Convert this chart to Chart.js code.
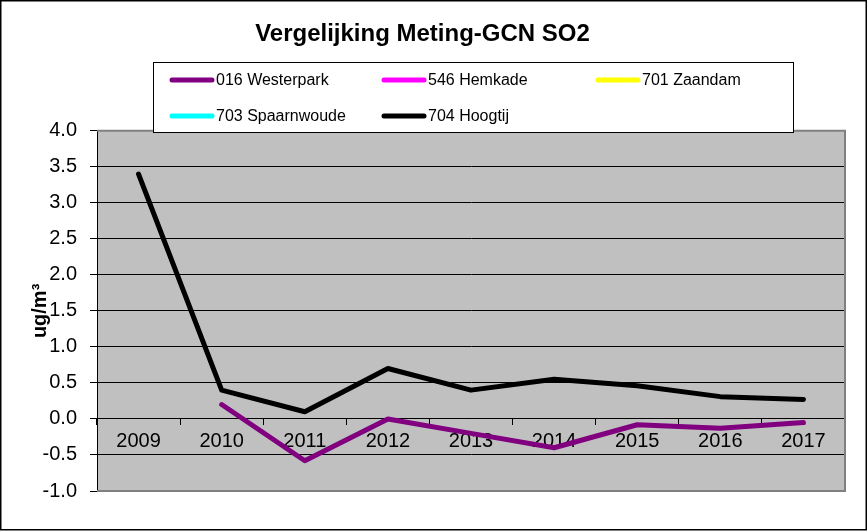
<!DOCTYPE html>
<html>
<head>
<meta charset="utf-8">
<script src="https://cdn.jsdelivr.net/npm/chart.js@4"></script>
<style>
  html, body { margin: 0; padding: 0; background: #fff; }
  #wrap { width: 868px; height: 531px; }
</style>
</head>
<body>
<div id="wrap"><canvas id="chart" width="868" height="531"></canvas></div>
<script>
// data
const years = ['2009', '2010', '2011', '2012', '2013', '2014', '2015', '2016', '2017'];
const westerpark016 = [null, 0.2, -0.58, 0.0, -0.2, -0.4, -0.08, -0.13, -0.05];
const hemkade546 = [];
const zaandam701 = [];
const spaarnwoude703 = [];
const hoogtij704 = [3.4, 0.4, 0.1, 0.7, 0.4, 0.55, 0.46, 0.31, 0.27];

const titleText = 'Vergelijking Meting-GCN SO2';
const yTitle = 'ug/m³';

const FONT = 'Arial, "Liberation Sans", sans-serif';

function series(label, data, color) {
  return {
    label: label,
    data: data,
    borderColor: color,
    backgroundColor: color,
    borderWidth: 5,
    pointRadius: 0,
    tension: 0,
    borderCapStyle: 'round',
    borderJoinStyle: 'round',
    spanGaps: false,
  };
}

// grey plot background, grey frame, white page + outer border, boxed legend
const excelLook = {
  id: 'excelLook',
  beforeDraw(chart) {
    const { ctx, chartArea: a } = chart;
    ctx.save();
    ctx.fillStyle = '#ffffff';
    ctx.fillRect(0, 0, chart.width, chart.height);
    ctx.fillStyle = '#c0c0c0';
    ctx.fillRect(a.left, a.top, a.right - a.left, a.bottom - a.top);
    ctx.restore();
  },
  beforeDatasetsDraw(chart) {
    const { ctx, chartArea: a } = chart;
    ctx.save();
    ctx.strokeStyle = '#808080';
    ctx.lineWidth = 2;
    ctx.beginPath();
    ctx.moveTo(a.left, a.top);
    ctx.lineTo(a.right, a.top);
    ctx.lineTo(a.right, a.bottom);
    ctx.lineTo(a.left, a.bottom);
    ctx.stroke();
    ctx.restore();
  },
  afterDraw(chart) {
    const ctx = chart.ctx;
    ctx.save();
    // legend box
    ctx.fillStyle = '#ffffff';
    ctx.fillRect(153, 62, 640, 70);
    ctx.strokeStyle = '#000000';
    ctx.lineWidth = 1;
    ctx.strokeRect(153.5, 62.5, 640, 70);
    const cols = [170, 382, 596];
    const rows = [80, 116];
    ctx.font = '16px ' + FONT;
    ctx.textBaseline = 'middle';
    ctx.textAlign = 'left';
    chart.data.datasets.forEach((ds, i) => {
      const x = cols[i % 3];
      const y = rows[Math.floor(i / 3)];
      ctx.strokeStyle = ds.borderColor;
      ctx.lineWidth = 5;
      ctx.lineCap = 'round';
      ctx.beginPath();
      ctx.moveTo(x + 2, y);
      ctx.lineTo(x + 42, y);
      ctx.stroke();
      ctx.fillStyle = '#000000';
      ctx.fillText(ds.label, x + 46, y + 1);
    });
    // outer frame
    ctx.strokeStyle = '#000000';
    ctx.lineWidth = 1.5;
    ctx.strokeRect(0.75, 0.75, 865.5, 529);
    ctx.restore();
  }
};

const chart = new Chart(document.getElementById('chart'), {
  type: 'line',
  data: {
    labels: years,
    datasets: [
      series('016 Westerpark', westerpark016, '#800080'),
      series('546 Hemkade', hemkade546, '#ff00ff'),
      series('701 Zaandam', zaandam701, '#ffff00'),
      series('703 Spaarnwoude', spaarnwoude703, '#00ffff'),
      series('704 Hoogtij', hoogtij704, '#000000'),
    ],
  },
  options: {
    responsive: false,
    animation: false,
    layout: { padding: { left: 0, right: 23, top: 0, bottom: 40 } },
    plugins: {
      legend: { display: false },
      tooltip: { enabled: false },
      title: {
        display: true,
        text: titleText,
        color: '#000000',
        font: { family: FONT, size: 24, weight: 'bold' },
        padding: { top: 20, bottom: 82 },
      },
    },
    scales: {
      x: {
        type: 'category',
        position: { y: 0 },
        offset: true,
        grid: { display: true, drawOnChartArea: false, offset: true, color: '#000000', tickLength: 6 },
        border: { display: true, color: '#000000', width: 1 },
        ticks: {
          color: '#000000',
          font: { family: FONT, size: 20 },
          padding: 5,
          maxRotation: 0,
          autoSkip: false,
        },
      },
      y: {
        min: -1,
        max: 4,
        afterFit(scale) { scale.width = 97; },
        grid: { color: '#000000', lineWidth: 1, tickLength: 7 },
        border: { display: true, color: '#000000', width: 1 },
        ticks: {
          stepSize: 0.5,
          color: '#000000',
          padding: 13,
          font: { family: FONT, size: 20 },
          callback: (v) => Number(v).toFixed(1),
        },
        title: {
          display: true,
          text: yTitle,
          color: '#000000',
          font: { family: FONT, size: 20, weight: 'bold' },
          padding: { top: 28, bottom: 0 },
        },
      },
    },
  },
  plugins: [excelLook],
});
</script>
</body>
</html>
